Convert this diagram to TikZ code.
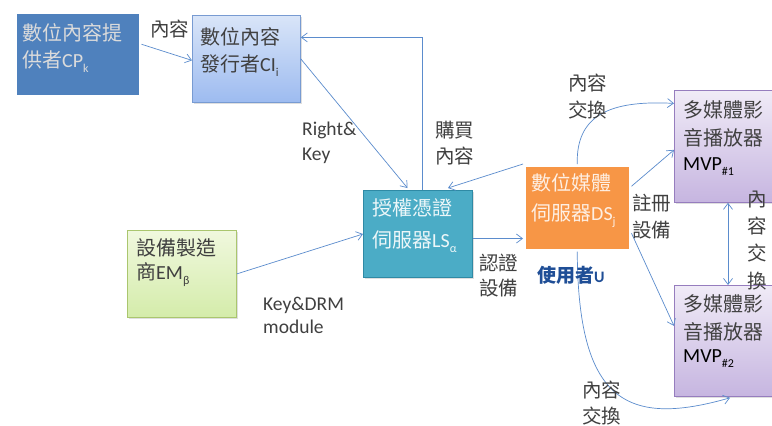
\documentclass[tikz,border=0pt]{standalone}
\usepackage{fontspec}
\setmainfont{Noto Sans CJK TC}
\newfontfamily\lat{Carlito}
\usetikzlibrary{arrows.meta,shadows,calc}
\definecolor{conn}{HTML}{5B8CCD}
\definecolor{lbl}{HTML}{404040}
\definecolor{cpfill}{HTML}{4F81BD}
\definecolor{lsfill}{HTML}{4BACC6}
\definecolor{lsdraw}{HTML}{2F8AA5}
\definecolor{dsfill}{HTML}{F79646}
\definecolor{useru}{HTML}{1F4E96}
\newcommand\La[1]{{\lat #1}}
\newcommand\Sb[1]{\raisebox{-0.25em}{\lat\fontsize{12}{12}\selectfont #1}}
\tikzset{
  conn/.style={draw=conn, line width=0.7pt, -{Straight Barb[length=6pt,width=9pt]}},
  bconn/.style={draw=conn, line width=0.7pt, {Straight Barb[length=6pt,width=9pt]}-{Straight Barb[length=6pt,width=9pt]}},
  boxbase/.style={anchor=north west, inner sep=0pt, drop shadow={opacity=0.25, shadow xshift=1.5pt, shadow yshift=-1.5pt}},
  cpstyle/.style={boxbase, fill=cpfill, draw=white, line width=2.5pt},
  cistyle/.style={boxbase, top color={rgb,255:red,217;green,229;blue,248}, bottom color={rgb,255:red,157;green,187;blue,240}, draw={rgb,255:red,120;green,155;blue,210}, line width=0.8pt},
  lsstyle/.style={boxbase, fill=lsfill, draw=lsdraw, line width=1pt},
  dsstyle/.style={boxbase, fill=dsfill, draw=white, line width=2.5pt},
  emstyle/.style={boxbase, top color={rgb,255:red,240;green,248;blue,222}, bottom color={rgb,255:red,212;green,236;blue,170}, draw={rgb,255:red,170;green,198;blue,110}, line width=0.8pt},
  mvstyle/.style={boxbase, top color={rgb,255:red,240;green,235;blue,247}, bottom color={rgb,255:red,198;green,181;blue,224}, draw={rgb,255:red,150;green,125;blue,190}, line width=0.8pt},
  boxtxt/.style={anchor=base west, inner sep=0pt, font=\fontsize{20}{24}\selectfont},
  lab/.style={anchor=base west, inner sep=0pt, text=lbl, font=\fontsize{19.5}{24}\selectfont},
  lablat/.style={anchor=base west, inner sep=0pt, text=lbl, font=\lat\fontsize{19.5}{24}\selectfont},
}
\begin{document}
\begin{tikzpicture}[x=1pt,y=-1pt]
\useasboundingbox (0,0) rectangle (772,426);
\clip (0,0) rectangle (772,426);
\fill[white] (0,0) rectangle (772,426);

% boxes
\node[cpstyle, minimum width=125pt, minimum height=84pt] (cp) at (14,11) {};
\node[cistyle, minimum width=108pt, minimum height=87pt] (ci) at (192,15) {};
\node[lsstyle, minimum width=109pt, minimum height=87pt] (ls) at (363,190) {};
\node[dsstyle, minimum width=106pt, minimum height=85pt] (ds) at (523,164) {};
\node[emstyle, minimum width=109pt, minimum height=87pt] (em) at (127,230) {};
\node[mvstyle, minimum width=130pt, minimum height=112pt] (mv1) at (674,90) {};
\node[mvstyle, minimum width=130pt, minimum height=111pt] (mv2) at (674,285) {};

% box texts
\node[boxtxt, text=white!86!black] (cpa) at (22,40) {數位內容提};
\node[boxtxt, text=white!86!black] (cpb) at (22,67) {供者\La{CP}\Sb{k}};
\node[boxtxt, text=lbl] (cia) at (200,44.5) {數位內容};
\node[boxtxt, text=lbl] (cib) at (200,71) {發行者\La{CI}\Sb{i}};
\node[boxtxt, text=white!90!lsfill] (lsa) at (372,215) {授權憑證};
\node[boxtxt, text=white!90!lsfill] (lsb) at (372,247) {伺服器\La{LS}\Sb{α}};
\node[boxtxt, text=white!85!dsfill] (dsa) at (531,190) {數位媒體};
\node[boxtxt, text=white!85!dsfill] (dsb) at (531,220) {伺服器\La{DS}\Sb{j}};
\node[boxtxt, text=lbl] (ema) at (136,255) {設備製造};
\node[boxtxt, text=lbl] (emb) at (136,279) {商\La{EM}\Sb{β}};
\node[boxtxt, text=lbl] (mv1a) at (683,117) {多媒體影};
\node[boxtxt, text=lbl] (mv1b) at (683,145) {音播放器};
\node[boxtxt, text=black] (mv1c) at (683,170.5) {\La{MVP}\Sb{\#1}};
\node[boxtxt, text=lbl] (mv2a) at (683,311) {多媒體影};
\node[boxtxt, text=lbl] (mv2b) at (683,339) {音播放器};
\node[boxtxt, text=black] (mv2c) at (683,362) {\La{MVP}\Sb{\#2}};

% connectors
\draw[conn] ([yshift=10pt]cp.east) -- ([yshift=-1.5pt]ci.west);
\draw[conn] (ci.east) -- ([xshift=-10.5pt,yshift=2pt]ls.north);
\draw[conn] ([xshift=4.5pt]ls.north) |- ([yshift=21.5pt]ci.east);
\draw[conn] (ds.north west) -- ([xshift=-25pt,yshift=2pt]ls.north east);
\draw[conn] ([yshift=-4.5pt]ls.east) -- ([yshift=-4.5pt]ls.east -| ds.west);
\draw[conn] (em.east) -- (ls.west);
\draw[conn] (ds.north) .. controls (576,115) and (610,100) .. ([yshift=43pt]mv1.west);
\draw[conn] ([yshift=21.5pt]ds.east) -- ([yshift=-3.5pt]mv1.west);
\draw[conn] ([yshift=-25.5pt]ds.east) -- ([yshift=15pt]mv2.west);
\draw[bconn] ([xshift=54pt]mv1.south west) -- ([xshift=54pt]mv2.north west);
\draw[conn] (ds.south) .. controls (578,400) and (625,428) .. ([xshift=56pt,yshift=-1pt]mv2.south west);

% labels
\node[lab] (l1) at (150,36) {內容};
\node[lablat] (l2a) at (302,135) {Right\&};
\node[lablat] (l2b) at (302,160) {Key};
\node[lab] (l3a) at (435,137) {購買};
\node[lab] (l3b) at (435,163) {內容};
\node[lab] (l4a) at (479,270) {認證};
\node[lab] (l4b) at (479,295) {設備};
\node[anchor=base west, inner sep=0pt, text=useru, font=\bfseries\fontsize{19}{24}\selectfont] (user) at (537,282) {使用者{\lat\fontsize{16}{16}\selectfont U}};
\node[lab] (l5a) at (568,90) {內容};
\node[lab] (l5b) at (568,117) {交換};
\node[lab] (l6a) at (632,210) {註冊};
\node[lab] (l6b) at (632,237) {設備};
\node[lab] (l7a) at (747,206) {內};
\node[lab] (l7b) at (747,233) {容};
\node[lab] (l7c) at (747,260) {交};
\node[lab] (l7d) at (747,288) {換};
\node[lablat] (l8a) at (263,310) {Key\&DRM};
\node[lablat] (l8b) at (263,333) {module};
\node[lab] (l9a) at (582,397) {內容};
\node[lab] (l9b) at (582,423) {交換};
\end{tikzpicture}
\end{document}
